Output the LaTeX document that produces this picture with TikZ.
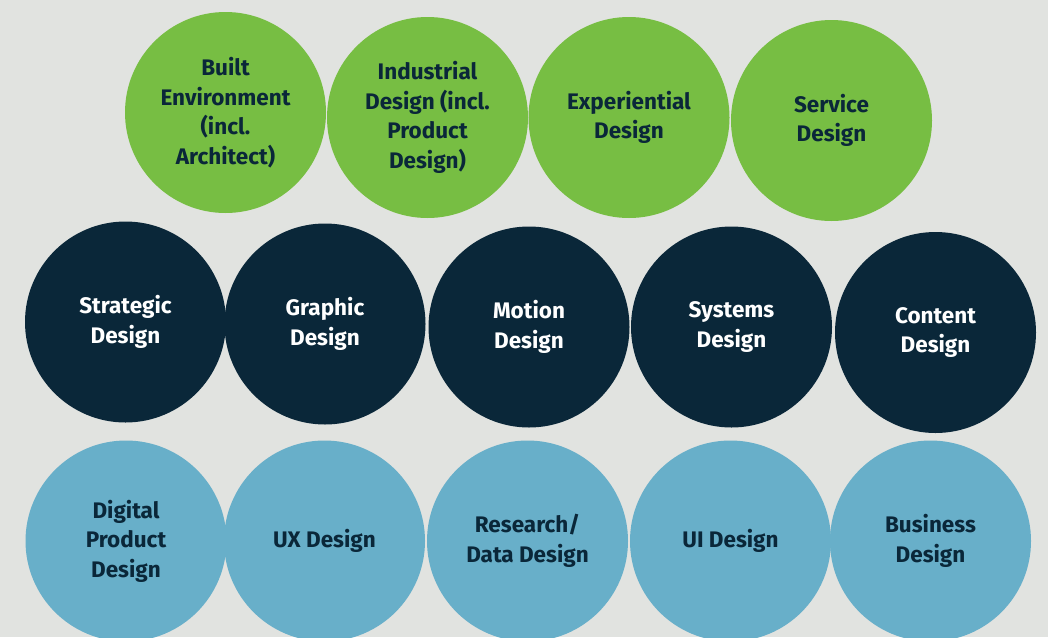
\documentclass[tikz,border=0pt]{standalone}
\usepackage{fontspec}
\setmainfont{Fira Sans}
\definecolor{bg}{HTML}{E1E3E0}
\definecolor{grn}{HTML}{77BE43}
\definecolor{navy}{HTML}{0A2739}
\definecolor{sky}{HTML}{68AFC9}
\tikzset{
  disc/.style={circle, minimum size=201pt, inner sep=0pt, align=center,
    font={\fontsize{22.5}{29.5}\selectfont\bfseries}},
  greendisc/.style={disc, fill=grn, text=navy},
  navydisc/.style={disc, fill=navy, text=white},
  bluedisc/.style={disc, fill=sky, text=navy}
}
\begin{document}
\begin{tikzpicture}[x=1pt,y=-1pt]
\useasboundingbox (0,0) rectangle (1048,637);
\clip (0,0) rectangle (1048,637);
\fill[bg] (0,0) rectangle (1048,637);
% top row
\node[greendisc] (built) at (225.5,112.5) {Built\\Environment\\(incl.\\Architect)};
\node[greendisc] (indus) at (427.5,117.5) {Industrial\\Design (incl.\\Product\\Design)};
\node[greendisc] (exper) at (629,117.5) {Experiential\\Design};
\node[greendisc] (serv) at (831.5,120.5) {Service\\Design};
% middle row
\node[navydisc] (strat) at (125.5,322) {Strategic\\Design};
\node[navydisc] (graph) at (325,324) {Graphic\\Design};
\node[navydisc] (motion) at (529,327) {Motion\\Design};
\node[navydisc] (syst) at (731.5,327) {Systems\\Design};
\node[navydisc] (cont) at (935.5,332.5) {Content\\Design};
% bottom row
\node[bluedisc] (digi) at (126,541) {Digital\\Product\\Design};
\node[bluedisc] (ux) at (324.5,541) {UX Design};
\node[bluedisc] (res) at (527.5,541) {Research/\\Data Design};
\node[bluedisc] (ui) at (730.5,541) {UI Design};
\node[bluedisc] (bus) at (930.5,541) {Business\\Design};
\end{tikzpicture}
\end{document}
